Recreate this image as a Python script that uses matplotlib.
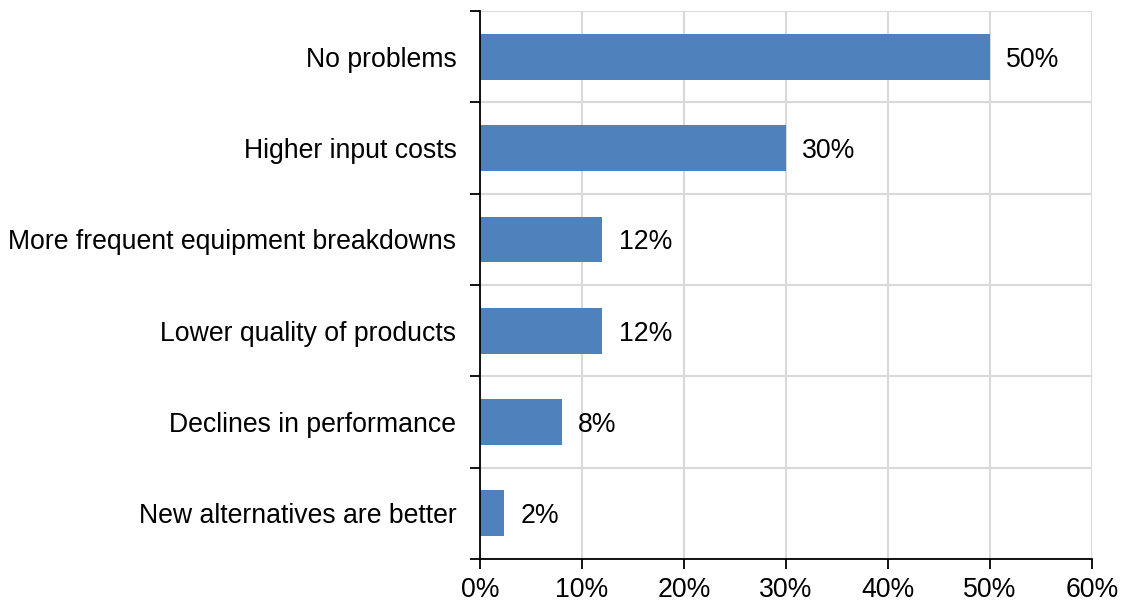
import numpy as np
import matplotlib
matplotlib.use('Agg')
import matplotlib.pyplot as plt
from matplotlib.ticker import FixedLocator, PercentFormatter

categories = ['No problems', 'Higher input costs', 'More frequent equipment breakdowns',
              'Lower quality of products', 'Declines in performance', 'New alternatives are better']
values = [50, 30, 12, 12, 8, 2.4]
labels = ['50%', '30%', '12%', '12%', '8%', '2%']

plt.rcParams['font.family'] = ['Liberation Sans', 'DejaVu Sans']

fig = plt.figure(figsize=(11.21, 6.04), dpi=100)
ax = fig.add_axes([480/1121, 1 - 559/604, 612/1121, 548/604])

y = np.arange(len(categories))[::-1]
ax.barh(y, values, height=0.5, color='#4f81bd', zorder=3)
for yi, v, lab in zip(y, values, labels):
    ax.text(v + 1.6, yi, lab, va='center_baseline', ha='left', fontsize=19.2)

ax.set_xlim(0, 60)
ax.set_ylim(-0.5, 5.5)
ax.set_xticks(np.arange(0, 61, 10))
ax.xaxis.set_major_formatter(PercentFormatter(decimals=0))

ax.yaxis.set_major_locator(FixedLocator(np.arange(-0.5, 6, 1)))
ax.yaxis.set_minor_locator(FixedLocator(y))
ax.set_yticklabels([])
ax.set_yticklabels(categories, minor=True)
ax.tick_params(axis='y', which='minor', length=0, pad=17, labelsize=19.2)
ax.tick_params(axis='y', which='major', length=7, width=1.3, direction='out')
ax.tick_params(axis='x', length=7, width=1.3, direction='out', labelsize=19.2, pad=6)

ax.grid(True, which='major', color='#d9d9d9', linewidth=1.5, zorder=0)
for s in ['top', 'right']:
    ax.spines[s].set_visible(False)
for s in ['left', 'bottom']:
    ax.spines[s].set_linewidth(1.3)
    ax.spines[s].set_zorder(4)

fig.savefig('out.png', dpi=100)
